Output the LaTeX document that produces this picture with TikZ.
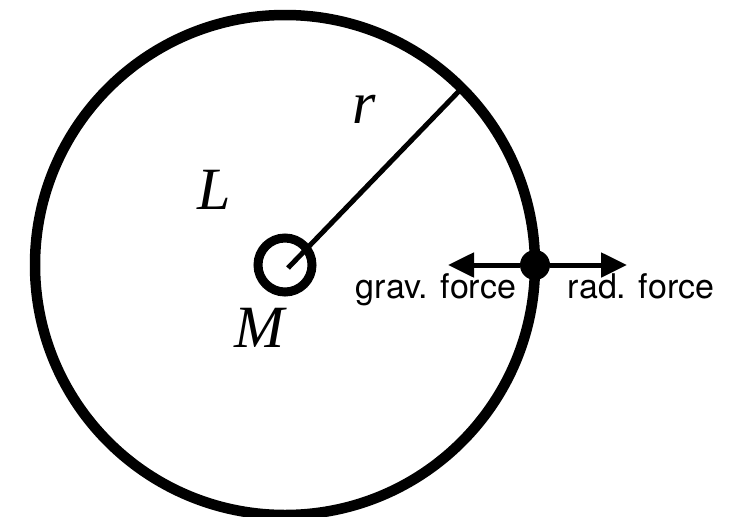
\documentclass[tikz,border=0pt]{standalone}
\usepackage{fontspec}
\setmainfont{Liberation Serif}
\newfontfamily\labelfont{TeX Gyre Heros}
\usetikzlibrary{arrows.meta}

\begin{document}
\begin{tikzpicture}[
        x=1pt, y=-1pt,
        ring/.style={
            draw,
            circle,
            inner sep=0pt,
            outer sep=0pt
        },
        arr/.style={
            -{Triangle[length=26pt, width=24pt]},
            line width=5pt
        },
        sym/.style={
            font=\fontsize{60}{72}\selectfont\itshape,
            inner sep=0pt,
            anchor=base
        },
        lbl/.style={
            font=\fontsize{34}{40}\selectfont\labelfont,
            inner sep=0pt,
            anchor=base
        }
    ]
        \useasboundingbox (0,0) rectangle (737,517);

        \node[ring, line width=10.5pt, minimum size=500pt] (orbit) at (285,265) {};
        \node[ring, line width=9pt, minimum size=54pt] (mass) at (285,265) {};
        \node[circle, fill, inner sep=0pt, minimum size=30pt] (probe) at (orbit.east) {};

        \coordinate (gravtip) at (448,265);
        \coordinate (radtip) at (627,265);

        \draw[line width=5pt] ([shift={(3,3)}]mass.center) -- (orbit.45);
        \draw[arr] (probe.west) -- (gravtip);
        \draw[arr] (probe.east) -- (radtip);

        \node[sym] (rlabel) at (364,123) {r};
        \node[sym] (Llabel) at (214,209) {L};
        \node[sym] (Mlabel) at (259,347) {M};
        \node[lbl] (gravlabel) at (436,298) {grav. force};
        \node[lbl] (radlabel) at (641,298) {rad. force};

    \end{tikzpicture}
\end{document}
